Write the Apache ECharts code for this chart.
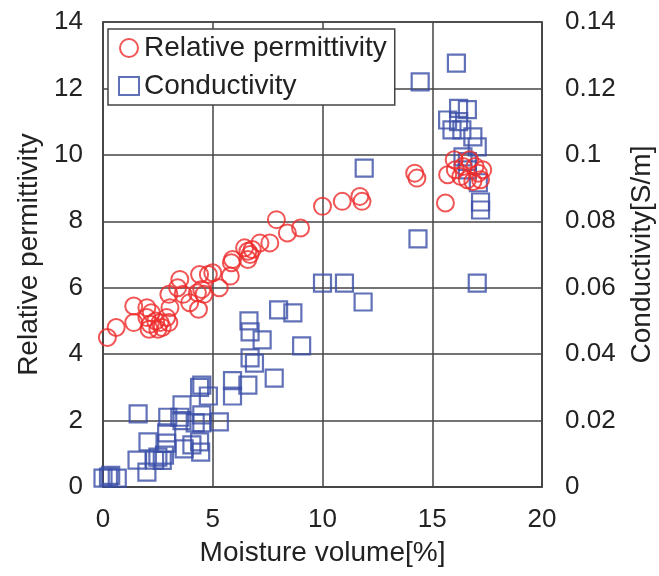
<!DOCTYPE html>
<html>
<head>
<meta charset="utf-8">
<script src="https://cdn.jsdelivr.net/npm/echarts@6/dist/echarts.min.js"></script>
<style>
html,body{margin:0;padding:0;background:#fff;}
#chart{width:659px;height:576px;}
</style>
</head>
<body>
<div id="chart"></div>
<script>
// Moisture volume [%] vs relative permittivity
const permittivityX = [0.2,0.6,1.4,1.4,2.0,2.0,2.1,2.2,2.15,2.4,2.5,2.6,2.7,2.9,3.0,3.05,3.0,3.4,3.5,3.65,3.95,4.3,4.35,4.4,4.5,4.6,4.8,5.0,5.3,5.8,5.85,5.9,6.45,6.6,6.7,6.6,6.8,7.15,7.6,7.9,8.4,9.0,10.0,10.9,11.7,11.8,14.2,14.3,15.6,15.7,16.0,16.05,16.3,16.4,16.6,16.7,16.85,16.95,17.1,17.2,17.3];
const permittivityY = [4.5,4.8,5.45,4.95,5.4,5.1,4.75,5.25,4.9,5.0,4.75,4.95,4.8,5.1,5.8,5.4,4.95,6.0,6.25,5.8,5.55,5.85,5.35,6.4,5.95,5.8,6.4,6.45,6.0,6.35,6.75,6.85,7.2,7.1,7.0,6.85,7.15,7.35,7.35,8.05,7.65,7.8,8.45,8.6,8.75,8.6,9.45,9.3,8.55,9.4,9.85,9.55,9.35,9.65,9.25,9.85,9.2,9.65,9.45,9.25,9.55];
// Moisture volume [%] vs conductivity [S/m]
const conductivityX = [0.0,0.25,0.65,0.35,1.55,1.6,2.0,2.05,2.35,2.5,2.7,2.8,2.9,2.95,2.9,3.5,3.6,3.6,3.7,4.05,4.2,4.4,4.4,4.45,4.5,4.5,4.5,4.8,5.3,5.9,5.9,6.6,6.65,6.7,6.7,6.9,7.25,7.8,8.0,8.65,9.05,10.0,11.0,11.85,11.9,14.35,14.45,15.7,15.9,16.1,16.2,16.2,16.35,16.4,16.6,16.6,16.6,16.85,17.05,17.05,17.1,17.2,17.2];
const conductivityY = [0.0027,0.003,0.0027,0.0035,0.0081,0.022,0.0045,0.0136,0.0081,0.009,0.008,0.0096,0.0163,0.021,0.0132,0.021,0.0247,0.02,0.0115,0.0127,0.0193,0.030,0.0136,0.0105,0.0307,0.0217,0.0193,0.0274,0.0196,0.032,0.0274,0.0307,0.050,0.0467,0.0389,0.0373,0.0443,0.0328,0.0533,0.0524,0.0425,0.0614,0.0614,0.0557,0.096,0.0747,0.122,0.1105,0.1075,0.1276,0.114,0.11,0.1075,0.0994,0.1136,0.098,0.0955,0.1054,0.1024,0.0614,0.0916,0.0858,0.0834];
const xTickLabels = ['0','5','10','15','20'];
const leftTickLabels = ['0','2','4','6','8','10','12','14'];
const rightTickLabels = ['0','0.02','0.04','0.06','0.08','0.1','0.12','0.14'];

const FONT = 'Liberation Sans, Arial, sans-serif';
const chart = echarts.init(document.getElementById('chart'), null, {renderer:'canvas'});
const permData = permittivityX.map((x,i)=>[x, permittivityY[i]]);
const condData = conductivityX.map((x,i)=>[x, conductivityY[i]]);

chart.setOption({
  animation:false,
  backgroundColor:'#fff',
  grid:{left:103, right:117, top:22, bottom:89, show:true, borderColor:'#444', borderWidth:1.5, outerBoundsMode:'none', containLabel:false},
  legend:{
    left:108, top:29, orient:'vertical', padding:[5,8,5,10], itemGap:10,
    borderColor:'#444', borderWidth:1.5, backgroundColor:'#fff',
    itemWidth:20, itemHeight:18,
    textStyle:{fontFamily:FONT, fontSize:28, color:'#222'},
    data:['Relative permittivity','Conductivity']
  },
  xAxis:{
    type:'value', min:0, max:20, interval:5,
    name:'Moisture volume[%]', nameLocation:'middle', nameGap:52,
    nameTextStyle:{fontFamily:FONT, fontSize:28, color:'#222'},
    axisLine:{show:true, lineStyle:{color:'#444', width:1.5}},
    axisTick:{show:false},
    axisLabel:{margin:20, fontFamily:FONT, fontSize:26, color:'#222', formatter:(v)=>xTickLabels[Math.round(v/5)]},
    splitLine:{show:true, lineStyle:{color:'#444', width:1.5}}
  },
  yAxis:[{
    type:'value', min:0, max:14, interval:2, position:'left',
    name:'Relative permittivity', nameLocation:'middle', nameGap:58,
    nameTextStyle:{fontFamily:FONT, fontSize:28, color:'#222'},
    axisLine:{show:true, lineStyle:{color:'#444', width:1.5}},
    axisTick:{show:false},
    axisLabel:{margin:20, fontFamily:FONT, fontSize:26, color:'#222', formatter:(v)=>leftTickLabels[Math.round(v/2)]},
    splitLine:{show:true, lineStyle:{color:'#444', width:1.5}}
  },{
    type:'value', min:0, max:0.14, interval:0.02, position:'right',
    name:'Conductivity[S/m]', nameLocation:'middle', nameGap:86,
    nameTextStyle:{fontFamily:FONT, fontSize:28, color:'#222'},
    axisLine:{show:true, lineStyle:{color:'#444', width:1.5}},
    axisTick:{show:false},
    axisLabel:{margin:23, fontFamily:FONT, fontSize:26, color:'#222', formatter:(v)=>rightTickLabels[Math.round(v/0.02)]},
    splitLine:{show:false}
  }],
  series:[{
    name:'Relative permittivity', type:'scatter', yAxisIndex:0,
    symbol:'circle', symbolSize:17,
    itemStyle:{color:'rgba(255,255,255,0)', borderColor:'#ee2a2a', borderWidth:2},
    data:permData, z:3
  },{
    name:'Conductivity', type:'scatter', yAxisIndex:1,
    symbol:'rect', symbolSize:17,
    itemStyle:{color:'rgba(255,255,255,0)', borderColor:'#3a4ea6', borderWidth:2.2},
    data:condData, z:2
  }]
});
</script>
</body>
</html>
